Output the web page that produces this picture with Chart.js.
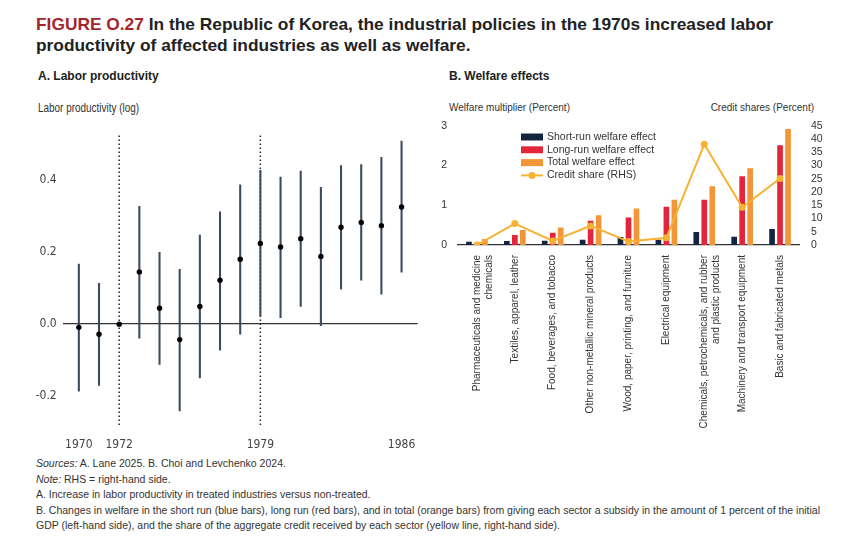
<!DOCTYPE html>
<html>
<head>
<meta charset="utf-8">
<script src="https://cdn.jsdelivr.net/npm/chart.js@4.4.1/dist/chart.umd.min.js"></script>
<style>
  body { margin: 0; width: 860px; height: 541px; background: #fff; position: relative; overflow: hidden;
         font-family: "Liberation Sans", Arial, sans-serif; color: #222; }
  .abs { position: absolute; white-space: nowrap; }
  #title { left: 36px; top: 14px; font-size: 17px; font-weight: bold; line-height: 21px; color: #222; }
  #title .fig { color: #a3262c; }
  .panel { font-weight: bold; font-size: 12px; color: #222; }
  .axlab { font-size: 12px; color: #333; }
  .axlabB { font-size: 10px; color: #333; }
  #notes { left: 36px; top: 456px; font-size: 10.5px; line-height: 15.5px; color: #333; }
  canvas { position: absolute; }
</style>
</head>
<body>
<div id="title" class="abs"><span class="fig">FIGURE O.27</span> In the Republic of Korea, the industrial policies in the 1970s increased labor<br>productivity of affected industries as well as welfare.</div>

<div class="abs panel" style="left:38px; top:69px;">A. Labor productivity</div>
<div id="ylabA" class="abs axlab" style="left:38px; top:101px;">Labor productivity (log)</div>

<div class="abs panel" style="left:449px; top:69px;">B. Welfare effects</div>
<div class="abs axlabB" style="left:449px; top:102px;">Welfare multiplier (Percent)</div>
<div class="abs axlabB" style="right:46px; top:102px;">Credit shares (Percent)</div>

<canvas id="chartA" width="430" height="330" style="left:0px; top:120px;"></canvas>
<canvas id="chartB" width="420" height="335" style="left:430px; top:115px;"></canvas>

<div id="notes" class="abs">
  <i>Sources:</i> A. Lane 2025. B. Choi and Levchenko 2024.<br>
  <i>Note:</i> RHS = right-hand side.<br>
  A. Increase in labor productivity in treated industries versus non-treated.<br>
  B. Changes in welfare in the short run (blue bars), long run (red bars), and in total (orange bars) from giving each sector a subsidy in the amount of 1 percent of the initial<br>
  GDP (left-hand side), and the share of the aggregate credit received by each sector (yellow line, right-hand side).
</div>

<script>
// ---- Panel A data ----
const years = [1970, 1971, 1972, 1973, 1974, 1975, 1976, 1977, 1978, 1979, 1980, 1981, 1982, 1983, 1984, 1985, 1986];
const estimates = [-0.009, -0.028, 0.0, 0.145, 0.044, -0.043, 0.049, 0.122, 0.180, 0.224, 0.214, 0.237, 0.188, 0.269, 0.282, 0.273, 0.325];
const ciLow = [-0.186, -0.170, null, -0.039, -0.112, -0.241, -0.149, -0.072, -0.028, 0.023, 0.018, 0.049, -0.004, 0.097, 0.122, 0.083, 0.144];
const ciHigh = [0.167, 0.113, null, 0.327, 0.199, 0.152, 0.247, 0.312, 0.387, 0.427, 0.408, 0.425, 0.380, 0.440, 0.443, 0.463, 0.508];
const eventYears = [1972, 1979];
const xTicksA = [1970, 1972, 1979, 1986];
const yTicksA = [-0.2, 0.0, 0.2, 0.4];

// ---- Panel B data ----
const sectors = [
  ['Pharmaceuticals and medicine', 'chemicals'],
  'Textiles, apparel, leather',
  'Food, beverages, and tobacco',
  'Other non-metallic mineral products',
  'Wood, paper, printing, and furniture',
  'Electrical equipment',
  ['Chemicals, petrochemicals, and rubber', 'and plastic products'],
  'Machinery and transport equipment',
  'Basic and fabricated metals'
];
const shortRun = [0.08, 0.10, 0.11, 0.13, 0.20, 0.13, 0.33, 0.21, 0.40];
const longRun = [0.04, 0.25, 0.31, 0.61, 0.69, 0.96, 1.14, 1.73, 2.51];
const totalEffect = [0.15, 0.38, 0.44, 0.75, 0.92, 1.14, 1.48, 1.93, 2.92];
const creditShare = [0.0, 8.1, 1.5, 7.2, 1.3, 2.7, 38.0, 14.2, 25.1];
const yTicksB = [0, 1, 2, 3];
const y1TicksB = [0, 5, 10, 15, 20, 25, 30, 35, 40, 45];

const A_MIN = -0.28, A_MAX = 0.53;

// squeeze html text to the narrow look of the original
function fitWidth(id, target) {
  const el = document.getElementById(id);
  const w = el.getBoundingClientRect().width;
  el.style.transformOrigin = 'left top';
  el.style.transform = 'scaleX(' + (target / w) + ')';
}
fitWidth('title', 737);
fitWidth('notes', 784);
fitWidth('ylabA', 101);

const narrow = '"DejaVu Sans Condensed", "Liberation Sans", sans-serif';
const sans = '"Liberation Sans", Arial, sans-serif';

// ---------- Chart A ----------
const ciData = [];
years.forEach((yr, i) => {
  if (ciLow[i] !== null) ciData.push({ x: yr, y: [ciLow[i], ciHigh[i]] });
});

const eventSets = eventYears.map(yr => ({
  type: 'line',
  data: [{ x: yr, y: A_MIN }, { x: yr, y: A_MAX }],
  borderColor: '#222',
  borderWidth: 1.5,
  borderDash: [1.5, 2.5],
  pointRadius: 0,
  order: 3
}));

new Chart(document.getElementById('chartA'), {
  type: 'bar',
  data: {
    datasets: [
      {
        type: 'line',
        data: years.map((yr, i) => ({ x: yr, y: estimates[i] })),
        showLine: false,
        pointRadius: 2.7,
        pointBackgroundColor: '#000',
        pointBorderWidth: 0,
        order: 0
      },
      {
        type: 'bar',
        data: ciData,
        backgroundColor: '#3b4a5c',
        barThickness: 1.4,
        order: 1
      },
      ...eventSets
    ]
  },
  options: {
    responsive: false,
    animation: false,
    layout: { padding: { left: 0, right: 12.3, top: 12.7, bottom: 0 } },
    plugins: { legend: { display: false }, tooltip: { enabled: false } },
    scales: {
      x: {
        type: 'linear',
        offset: false,
        min: 1969.2,
        max: 1986.8,
        grid: { display: false, offset: false },
        border: { display: false },
        afterBuildTicks: s => { s.ticks = xTicksA.map(v => ({ value: v })); },
        afterFit: s => { s.height = 25; },
        ticks: {
          padding: 5,
          color: '#444',
          font: { family: narrow, size: 12 },
          callback: v => String(v)
        }
      },
      y: {
        min: A_MIN,
        max: A_MAX,
        border: { display: false },
        grid: {
          drawTicks: false,
          color: c => (c.tick && Math.abs(c.tick.value) < 1e-9 ? '#333' : 'rgba(0,0,0,0)'),
          lineWidth: 1.3
        },
        afterBuildTicks: s => { s.ticks = yTicksA.map(v => ({ value: v })); },
        afterFit: s => { s.width = 62.7; },
        ticks: {
          padding: 6,
          color: '#444',
          font: { family: narrow, size: 12 },
          callback: v => v.toFixed(1)
        }
      }
    }
  }
});

// ---------- Chart B ----------
const navy = '#14263f', red = '#e2253a', orange = '#f39637', gold = '#f7b233';

const legendInside = {
  id: 'legendInside',
  afterDraw(chart) {
    const ctx = chart.ctx;
    const x0 = 91, y0 = 22, step = 12.8;
    ctx.save();
    ctx.font = '10.5px ' + sans;
    ctx.textBaseline = 'middle';
    chart.data.datasets.forEach((ds, i) => {
      const y = y0 + i * step;
      if (ds.type === 'line') {
        ctx.strokeStyle = ds.borderColor;
        ctx.lineWidth = 2;
        ctx.beginPath(); ctx.moveTo(x0, y); ctx.lineTo(x0 + 22, y); ctx.stroke();
        ctx.fillStyle = ds.pointBackgroundColor;
        ctx.beginPath(); ctx.arc(x0 + 11, y, 3.5, 0, Math.PI * 2); ctx.fill();
      } else {
        ctx.fillStyle = ds.backgroundColor;
        ctx.fillRect(x0, y - 3.5, 22, 7);
      }
      ctx.fillStyle = '#333';
      ctx.fillText(ds.label, x0 + 26, y);
    });
    ctx.restore();
  }
};

new Chart(document.getElementById('chartB'), {
  type: 'bar',
  data: {
    labels: sectors,
    datasets: [
      { label: 'Short-run welfare effect', data: shortRun, backgroundColor: navy, yAxisID: 'y', order: 1 },
      { label: 'Long-run welfare effect', data: longRun, backgroundColor: red, yAxisID: 'y', order: 1 },
      { label: 'Total welfare effect', data: totalEffect, backgroundColor: orange, yAxisID: 'y', order: 1 },
      {
        type: 'line', label: 'Credit share (RHS)', data: creditShare, yAxisID: 'y1',
        borderColor: gold, borderWidth: 2, pointRadius: 3.5,
        pointBackgroundColor: gold, pointBorderWidth: 0, tension: 0, order: 0
      }
    ]
  },
  options: {
    responsive: false,
    animation: false,
    layout: { padding: { left: 0, right: 0, top: 10.7, bottom: 0 } },
    datasets: { bar: { barPercentage: 0.71, categoryPercentage: 0.633 } },
    plugins: { legend: { display: false }, tooltip: { enabled: false } },
    scales: {
      x: {
        grid: { display: false },
        border: { display: true, color: '#333', width: 1.2 },
        afterFit: s => { s.height = 205; },
        ticks: {
          minRotation: 90,
          maxRotation: 90,
          autoSkip: false,
          padding: 2,
          color: '#333',
          font: { family: sans, size: 10 }
        }
      },
      y: {
        position: 'left',
        min: 0,
        max: 3,
        grid: { display: false },
        border: { display: false },
        afterBuildTicks: s => { s.ticks = yTicksB.map(v => ({ value: v })); },
        afterFit: s => { s.width = 28; },
        ticks: { autoSkip: false, padding: 3, color: '#333', font: { family: sans, size: 10.5 } }
      },
      y1: {
        position: 'right',
        min: 0,
        max: 45,
        grid: { display: false },
        border: { display: false },
        afterBuildTicks: s => { s.ticks = y1TicksB.map(v => ({ value: v })); },
        afterFit: s => { s.width = 51; },
        ticks: { autoSkip: false, padding: 4, color: '#333', font: { family: sans, size: 10.5 } }
      }
    }
  },
  plugins: [legendInside]
});
</script>
</body>
</html>
